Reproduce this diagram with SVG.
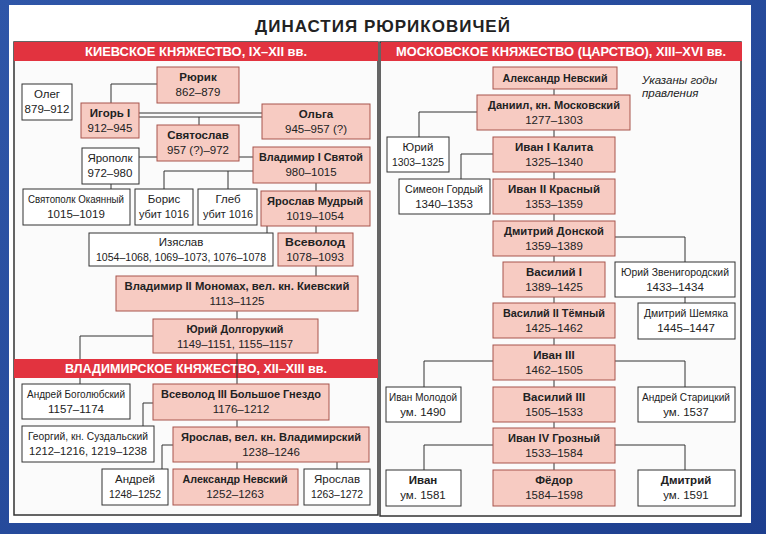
<svg xmlns="http://www.w3.org/2000/svg" width="766" height="534" viewBox="0 0 766 534">
<defs>
<linearGradient id="bg" x1="0" y1="0" x2="1" y2="1"><stop offset="0" stop-color="#2f56a8"/><stop offset="1" stop-color="#1d3f8f"/></linearGradient>
</defs>
<style>
.p{fill:#f7cbc2;stroke:#a8544c;stroke-width:1}
.w{fill:#fff;stroke:#333;stroke-width:1}
.bar{fill:#e2333f}
.panel{fill:#fbfbfb;stroke:#333;stroke-width:1.5}
text{font-family:"Liberation Sans",Arial,sans-serif;font-size:11.5px;text-anchor:middle;fill:#222}
.b{font-weight:bold}
.h{fill:#fff;font-weight:bold;font-size:13px}
.c line,.c polyline{stroke:#333;stroke-width:1;fill:none}
</style>
<rect width="766" height="534" fill="url(#bg)"/>
<rect x="9" y="5" width="742" height="518" fill="#fff"/>
<text x="383" y="32" class="b" style="font-size:17px;letter-spacing:1px">ДИНАСТИЯ РЮРИКОВИЧЕЙ</text>
<rect class="panel" x="14" y="42" width="364" height="473"/>
<rect class="panel" x="380" y="42" width="361" height="474"/>
<rect class="bar" x="14" y="42" width="364" height="19"/>
<text class="h" x="196" y="56" textLength="222" lengthAdjust="spacingAndGlyphs">КИЕВСКОЕ КНЯЖЕСТВО, IX–XII вв.</text>
<rect class="bar" x="381" y="42" width="361" height="19"/>
<text class="h" x="561" y="56" textLength="330" lengthAdjust="spacingAndGlyphs">МОСКОВСКОЕ КНЯЖЕСТВО (ЦАРСТВО), XIII–XVI вв.</text>
<g class="c">
<polyline points="157,84 111,84 111,103"/>
<line x1="139" y1="113" x2="262" y2="113"/><line x1="139" y1="117" x2="262" y2="117"/>
<line x1="199" y1="117" x2="199" y2="125"/>
<line x1="139" y1="157" x2="157" y2="157"/><line x1="239" y1="157" x2="253" y2="157"/>
<line x1="111" y1="184" x2="111" y2="189"/>
<polyline points="253,171 164,171 164,189"/><line x1="228" y1="171" x2="228" y2="189"/>
<line x1="316" y1="183" x2="316" y2="191"/>
<line x1="267" y1="226" x2="267" y2="233"/><line x1="316" y1="226" x2="316" y2="233"/>
<line x1="316" y1="266" x2="316" y2="276"/>
<line x1="237" y1="311" x2="237" y2="319"/>
<polyline points="153,336 80,336 80,384"/>
<line x1="237" y1="353" x2="237" y2="384"/>
<polyline points="153,403 143,403 143,426"/>
<line x1="237" y1="420" x2="237" y2="427"/>
<polyline points="173,445 162,445 162,469"/>
<line x1="237" y1="462" x2="237" y2="469"/><line x1="337" y1="462" x2="337" y2="469"/>
<line x1="554" y1="89" x2="554" y2="470"/>
<polyline points="477,112 419,112 419,137"/>
<polyline points="493,154 461,154 461,179"/>
<polyline points="615,237 685,237 685,262"/>
<line x1="685" y1="297" x2="685" y2="303"/>
<polyline points="493,361 424,361 424,387"/><polyline points="615,361 685,361 685,387"/>
<polyline points="493,445 424,445 424,470"/><polyline points="615,445 685,445 685,470"/>
</g>
<rect class="bar" x="14" y="359" width="364" height="19"/>
<text class="h" x="196" y="373" textLength="262" lengthAdjust="spacingAndGlyphs">ВЛАДИМИРСКОЕ КНЯЖЕСТВО, XII–XIII вв.</text>
<line x1="237" y1="359" x2="237" y2="378" stroke="#333" stroke-width="1"/>
<g id="oleg"><rect class="w" x="22" y="84" width="50" height="36"/><text x="47" y="98">Олег</text><text x="47" y="113">879–912</text></g>
<g id="ryurik"><rect class="p" x="157" y="67" width="82" height="36"/><text class="b" x="198" y="81">Рюрик</text><text x="198" y="96">862–879</text></g>
<g id="igor"><rect class="p" x="81" y="103" width="58" height="35"/><text class="b" x="110" y="117">Игорь I</text><text x="110" y="132">912–945</text></g>
<g id="olga"><rect class="p" x="262" y="104" width="108" height="35"/><text class="b" x="316" y="118">Ольга</text><text x="316" y="133">945–957 (?)</text></g>
<g id="svyatoslav"><rect class="p" x="157" y="125" width="82" height="36"/><text class="b" x="198" y="139">Святослав</text><text x="198" y="154">957 (?)–972</text></g>
<g id="yaropolk"><rect class="w" x="82" y="148" width="57" height="36"/><text x="110" y="162">Ярополк</text><text x="110" y="177">972–980</text></g>
<g id="vladimir1"><rect class="p" x="253" y="147" width="117" height="36"/><text class="b" x="311" y="161" textLength="104" lengthAdjust="spacingAndGlyphs">Владимир I Святой</text><text x="311" y="176">980–1015</text></g>
<g id="svyatopolk"><rect class="w" x="23" y="189" width="107" height="36"/><text x="76" y="203" textLength="96" lengthAdjust="spacingAndGlyphs">Святополк Окаянный</text><text x="76" y="218">1015–1019</text></g>
<g id="boris"><rect class="w" x="135" y="189" width="58" height="36"/><text x="164" y="203">Борис</text><text x="164" y="218" textLength="50" lengthAdjust="spacingAndGlyphs">убит 1016</text></g>
<g id="gleb"><rect class="w" x="198" y="189" width="59" height="36"/><text x="228" y="203">Глеб</text><text x="228" y="218" textLength="50" lengthAdjust="spacingAndGlyphs">убит 1016</text></g>
<g id="yaroslav-mudry"><rect class="p" x="261" y="191" width="109" height="35"/><text class="b" x="315" y="205" textLength="96" lengthAdjust="spacingAndGlyphs">Ярослав Мудрый</text><text x="315" y="220">1019–1054</text></g>
<g id="izyaslav"><rect class="w" x="89" y="233" width="184" height="33"/><text x="181" y="246">Изяслав</text><text x="181" y="261" textLength="170" lengthAdjust="spacingAndGlyphs">1054–1068, 1069–1073, 1076–1078</text></g>
<g id="vsevolod"><rect class="p" x="278" y="233" width="75" height="33"/><text class="b" x="315" y="246" textLength="60" lengthAdjust="spacingAndGlyphs">Всеволод</text><text x="315" y="261">1078–1093</text></g>
<g id="vladimir2"><rect class="p" x="116" y="276" width="242" height="35"/><text class="b" x="237" y="290" textLength="225" lengthAdjust="spacingAndGlyphs">Владимир II Мономах, вел. кн. Киевский</text><text x="237" y="305">1113–1125</text></g>
<g id="yuri-dolg"><rect class="p" x="153" y="319" width="165" height="34"/><text class="b" x="235" y="333" textLength="97" lengthAdjust="spacingAndGlyphs">Юрий Долгорукий</text><text x="235" y="348" textLength="116" lengthAdjust="spacingAndGlyphs">1149–1151, 1155–1157</text></g>
<g id="andrei-bogol"><rect class="w" x="22" y="384" width="108" height="35"/><text x="76" y="398" textLength="98" lengthAdjust="spacingAndGlyphs">Андрей Боголюбский</text><text x="76" y="413">1157–1174</text></g>
<g id="vsevolod3"><rect class="p" x="153" y="384" width="176" height="36"/><text class="b" x="241" y="398" textLength="160" lengthAdjust="spacingAndGlyphs">Всеволод III Большое Гнездо</text><text x="241" y="413">1176–1212</text></g>
<g id="georgy"><rect class="w" x="22" y="426" width="132" height="36"/><text x="88" y="440" textLength="120" lengthAdjust="spacingAndGlyphs">Георгий, кн. Суздальский</text><text x="88" y="455" textLength="118" lengthAdjust="spacingAndGlyphs">1212–1216, 1219–1238</text></g>
<g id="yaroslav-vlad"><rect class="p" x="173" y="427" width="196" height="35"/><text class="b" x="271" y="441" textLength="180" lengthAdjust="spacingAndGlyphs">Ярослав, вел. кн. Владимирский</text><text x="271" y="456">1238–1246</text></g>
<g id="andrei"><rect class="w" x="102" y="469" width="66" height="36"/><text x="135" y="483">Андрей</text><text x="135" y="498" textLength="52" lengthAdjust="spacingAndGlyphs">1248–1252</text></g>
<g id="alexandr-l"><rect class="p" x="173" y="469" width="125" height="36"/><text class="b" x="235" y="483" textLength="105" lengthAdjust="spacingAndGlyphs">Александр Невский</text><text x="235" y="498">1252–1263</text></g>
<g id="yaroslav-l"><rect class="w" x="304" y="469" width="66" height="36"/><text x="337" y="483">Ярослав</text><text x="337" y="498" textLength="52" lengthAdjust="spacingAndGlyphs">1263–1272</text></g>
<text x="642" y="84" style="font-style:italic;text-anchor:start"><tspan x="642" y="84">Указаны годы</tspan><tspan x="642" y="97">правления</tspan></text>
<g id="alexandr-r"><rect class="p" x="493" y="67" width="124" height="22"/><text class="b" x="555" y="82" textLength="105" lengthAdjust="spacingAndGlyphs">Александр Невский</text></g>
<g id="daniil"><rect class="p" x="477" y="95" width="153" height="35"/><text class="b" x="554" y="109" textLength="132" lengthAdjust="spacingAndGlyphs">Даниил, кн. Московский</text><text x="554" y="124">1277–1303</text></g>
<g id="yuri-m"><rect class="w" x="387" y="137" width="62" height="35"/><text x="418" y="151">Юрий</text><text x="418" y="166" textLength="52" lengthAdjust="spacingAndGlyphs">1303–1325</text></g>
<g id="ivan1"><rect class="p" x="493" y="137" width="122" height="35"/><text class="b" x="554" y="151">Иван I Калита</text><text x="554" y="166">1325–1340</text></g>
<g id="simeon"><rect class="w" x="399" y="179" width="91" height="35"/><text x="444" y="193" textLength="78" lengthAdjust="spacingAndGlyphs">Симеон Гордый</text><text x="444" y="208">1340–1353</text></g>
<g id="ivan2"><rect class="p" x="493" y="179" width="122" height="35"/><text class="b" x="554" y="193">Иван II Красный</text><text x="554" y="208">1353–1359</text></g>
<g id="dmitry-donskoy"><rect class="p" x="493" y="221" width="122" height="35"/><text class="b" x="554" y="235" textLength="100" lengthAdjust="spacingAndGlyphs">Дмитрий Донской</text><text x="554" y="250">1359–1389</text></g>
<g id="vasily1"><rect class="p" x="503" y="262" width="102" height="35"/><text class="b" x="554" y="276">Василий I</text><text x="554" y="291">1389–1425</text></g>
<g id="yuri-zven"><rect class="w" x="615" y="262" width="120" height="35"/><text x="675" y="276" textLength="108" lengthAdjust="spacingAndGlyphs">Юрий Звенигородский</text><text x="675" y="291">1433–1434</text></g>
<g id="vasily2"><rect class="p" x="493" y="303" width="122" height="35"/><text class="b" x="554" y="317" textLength="102" lengthAdjust="spacingAndGlyphs">Василий II Тёмный</text><text x="554" y="332">1425–1462</text></g>
<g id="shemyaka"><rect class="w" x="638" y="303" width="97" height="36"/><text x="686" y="317" textLength="84" lengthAdjust="spacingAndGlyphs">Дмитрий Шемяка</text><text x="686" y="332">1445–1447</text></g>
<g id="ivan3"><rect class="p" x="493" y="345" width="122" height="35"/><text class="b" x="554" y="359">Иван III</text><text x="554" y="374">1462–1505</text></g>
<g id="ivan-molodoy"><rect class="w" x="386" y="387" width="75" height="35"/><text x="423" y="401" textLength="68" lengthAdjust="spacingAndGlyphs">Иван Молодой</text><text x="423" y="416">ум. 1490</text></g>
<g id="vasily3"><rect class="p" x="493" y="387" width="122" height="35"/><text class="b" x="554" y="401">Василий III</text><text x="554" y="416">1505–1533</text></g>
<g id="andrei-star"><rect class="w" x="638" y="387" width="97" height="35"/><text x="686" y="401" textLength="88" lengthAdjust="spacingAndGlyphs">Андрей Старицкий</text><text x="686" y="416">ум. 1537</text></g>
<g id="ivan4"><rect class="p" x="493" y="428" width="122" height="35"/><text class="b" x="554" y="442" textLength="92" lengthAdjust="spacingAndGlyphs">Иван IV Грозный</text><text x="554" y="457">1533–1584</text></g>
<g id="ivan"><rect class="w" x="386" y="470" width="75" height="36"/><text class="b" x="423" y="484">Иван</text><text x="423" y="499">ум. 1581</text></g>
<g id="fedor"><rect class="p" x="493" y="470" width="122" height="36"/><text class="b" x="554" y="484">Фёдор</text><text x="554" y="499">1584–1598</text></g>
<g id="dmitry"><rect class="w" x="638" y="470" width="97" height="36"/><text class="b" x="686" y="484">Дмитрий</text><text x="686" y="499">ум. 1591</text></g>
</svg>
